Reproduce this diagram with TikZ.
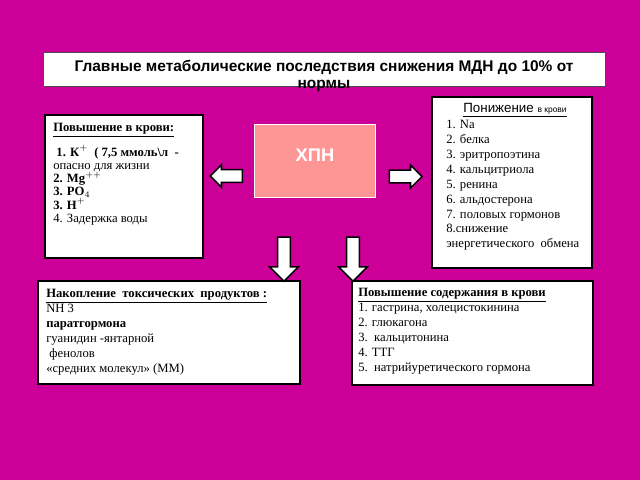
\documentclass[tikz,border=0pt]{standalone}
\usepackage{fontspec}
\setmainfont{Liberation Serif}
\setsansfont{Liberation Sans}
\usetikzlibrary{shapes.arrows,fit}
\definecolor{bgmagenta}{RGB}{204,0,153}
\definecolor{xpnpink}{RGB}{255,150,150}
\tikzset{
  infobox/.style={draw=black, line width=1.2pt, fill=white, inner sep=0pt},
  infotext/.style={anchor=north west, inner sep=0pt, align=left, font=\fontsize{9}{10.6}\selectfont},
  blockarrow/.style={single arrow, draw=black, fill=white, line width=1.1pt, inner xsep=0pt, inner ysep=0.14cm}
}
\begin{document}
\begin{tikzpicture}[x=0.025cm,y=-0.025cm]
            % Background
            \useasboundingbox[fill=bgmagenta] (0,0) rectangle (640,480);

            % Title
            \node[fill=white, draw=gray!60!black, line width=0.6pt, inner sep=0pt, fit={(43,52) (605,86)}] (titlebox) {};
            \node[align=center, inner sep=0pt, font=\sffamily\bfseries\fontsize{11}{11.8}\selectfont] (title) at (324,76)
                {Главные метаболические последствия снижения МДН до 10\% от\\нормы};

            % Central box
            \node[fill=xpnpink, draw=white, line width=0.6pt, inner sep=0pt, fit={(254,124) (375,197)}] (xpn) {};
            \node[text=white, font=\sffamily\bfseries\fontsize{13}{13}\selectfont] (xpnlabel) at (315,155) {ХПН};

            % Boxes
            \node[infobox, fit={(45,115) (203,258)}] (lbox) {};
            \node[infobox, fit={(432,97) (592,268)}] (rbox) {};
            \node[infobox, fit={(38,281) (300,384)}] (blbox) {};
            \node[infobox, fit={(352,281) (593,385)}] (brbox) {};

            % Texts
            \node[infotext, font=\fontsize{9}{9.4}\selectfont] (ltext) at (53,123) {%
                \textbf{\underline{Повышение в крови:}}\\[5pt]
                \textbf{\ 1. К$^{+}$\ \ ( 7,5 ммоль\textbackslash л\ \ -}\\
                опасно для жизни\\
                \textbf{2. Mg$^{++}$}\\
                \textbf{3. PO$_{4}$}\\
                \textbf{3. H$^{+}$}\\
                4. Задержка воды};
            \node[inner sep=0pt, font=\sffamily\fontsize{9.5}{10}\selectfont] (rhead) at (515,110)
                {\underline{Понижение {\fontsize{6}{6}\selectfont в крови}}};
            \node[infotext] (rtext) at (446,120) {%
                1. Na\\
                2. белка\\
                3. эритропоэтина\\
                4. кальцитриола\\
                5. ренина\\
                6. альдостерона\\
                7. половых гормонов\\
                8.снижение\\
                энергетического\ \ обмена};
            \node[infotext] (bltext) at (46,289) {%
                \textbf{\underline{Накопление\ \ токсических\ \ продуктов :}}\\
                NH 3\\
                \textbf{паратгормона}\\
                гуанидин -янтарной\\
                \ фенолов\\
                «средних молекул» (ММ)};
            \node[infotext] (brtext) at (358,288) {%
                \textbf{\underline{Повышение содержания в крови}}\\
                1. гастрина, холецистокинина\\
                2. глюкагона\\
                3.\ \ кальцитонина\\
                4. ТТГ\\
                5.\ \ натрийуретического гормона};

            % Block arrows
            \node[blockarrow, rotate=180, minimum height=0.8cm, minimum width=0.55cm, single arrow head extend=0.12cm] (larrow) at (229.5,176) {};
            \node[blockarrow, minimum height=0.82cm, minimum width=0.57cm, single arrow head extend=0.13cm] (rarrow) at (402.5,176.5) {};
            \foreach \name/\x in {dlarrow/284, drarrow/353} {
                \node[blockarrow, rotate=-90, minimum height=1.1cm, minimum width=0.7cm, single arrow head extend=0.2cm] (\name) at (\x,256) {};
            }
        \end{tikzpicture}
\end{document}
